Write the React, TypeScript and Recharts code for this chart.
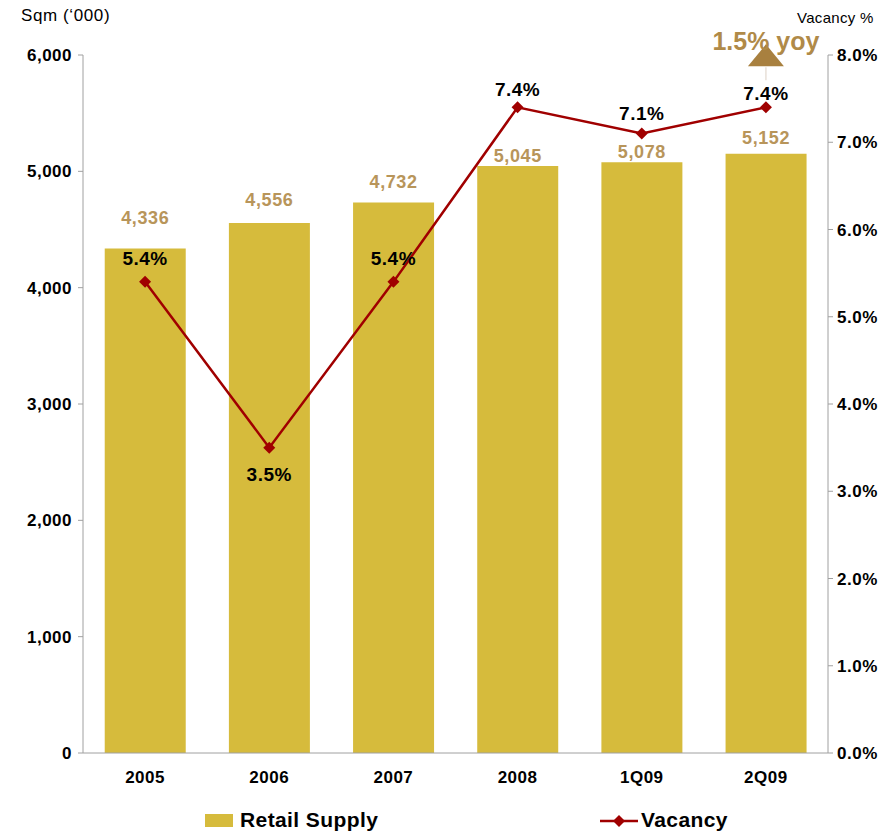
import React from 'react';
import {
  ComposedChart,
  Bar,
  Line,
  XAxis,
  YAxis,
  Legend,
  LabelList,
} from 'recharts';

const periods = ['2005', '2006', '2007', '2008', '1Q09', '2Q09'];
const retailSupply = [4336, 4556, 4732, 5045, 5078, 5152];
const vacancy = [5.4, 3.5, 5.4, 7.4, 7.1, 7.4];
const supplyTicks = [0, 1000, 2000, 3000, 4000, 5000, 6000];
const vacancyTicks = [0, 1, 2, 3, 4, 5, 6, 7, 8];
const yoyNote = '1.5% yoy';

const data = periods.map((p, i) => ({ period: p, supply: retailSupply[i], vacancy: vacancy[i] }));

const BAR = '#D6BB3C';
const LINE = '#A00000';
const TAN = '#B8955A';
const FONT = '"Liberation Sans", Arial, sans-serif';

// label nudges so the two label sets don't collide (as in the original)
const supplyLift = [25, 17, 15, 4, 4, 10];
const vacancyShift = [-17, 33, -17, -11, -14, -7];

const Diamond = (props: any) => {
  const { cx, cy } = props;
  if (cx == null || cy == null) return null;
  const s = 6;
  return <path d={`M${cx},${cy - s}L${cx + s},${cy}L${cx},${cy + s}L${cx - s},${cy}Z`} fill={LINE} />;
};

const SupplyLabel = (props: any) => {
  const { x, y, width, value, index } = props;
  return (
    <text
      x={x + width / 2}
      y={y - supplyLift[index]}
      textAnchor="middle"
      fill={TAN}
      fontSize={18}
      fontWeight="bold"
      letterSpacing={0.6}
      fontFamily={FONT}
    >
      {value.toLocaleString('en-US')}
    </text>
  );
};

const VacancyLabel = (props: any) => {
  const { x, y, value, index } = props;
  const last = index === periods.length - 1;
  return (
    <g>
      <text
        x={x}
        y={y + vacancyShift[index]}
        textAnchor="middle"
        fill="#000"
        fontSize={19}
        fontWeight="bold"
        letterSpacing={0.5}
        fontFamily={FONT}
      >
        {value.toFixed(1)}%
      </text>
      {last && (
        <g>
          <line x1={x} y1={y - 40} x2={x} y2={y - 27} stroke="#E8E0D8" strokeWidth={1.5} />
          <path d={`M${x - 18},${y - 41}L${x + 18},${y - 41}L${x},${y - 63}Z`} fill="#A8803F" />
          <text x={x} y={y - 57} textAnchor="middle" fill="#B08A48" fontSize={25} fontWeight="bold" fontFamily={FONT}>
            {yoyNote}
          </text>
        </g>
      )}
    </g>
  );
};

const LegendBox = () => (
  <div style={{ position: 'relative', width: 896, height: 24, fontFamily: FONT, fontWeight: 'bold', fontSize: 21 }}>
    <div style={{ position: 'absolute', left: 205, top: 7, width: 28, height: 13, background: BAR }} />
    <div style={{ position: 'absolute', left: 240, top: 1, lineHeight: '24px', letterSpacing: 0.4 }}>Retail Supply</div>
    <svg style={{ position: 'absolute', left: 600, top: 4 }} width={40} height={20}>
      <line x1={0} y1={10} x2={38} y2={10} stroke={LINE} strokeWidth={2.5} />
      <path d="M19,4L25,10L19,16L13,10Z" fill={LINE} />
    </svg>
    <div style={{ position: 'absolute', left: 641, top: 1, lineHeight: '24px', letterSpacing: 0.4 }}>Vacancy</div>
  </div>
);

const tickStyle = { fill: '#000', fontSize: 17, fontWeight: 'bold', fontFamily: FONT, letterSpacing: 0.5 };

export default function App() {
  return (
    <div style={{ position: 'absolute', left: 0, top: 0, width: 896, height: 831, background: '#fff', fontFamily: FONT }}>
      <div style={{ position: 'absolute', left: 21, top: 6, fontSize: 17, letterSpacing: 0.6, color: '#000' }}>Sqm (‘000)</div>
      <div style={{ position: 'absolute', left: 797, top: 9, fontSize: 15, letterSpacing: 0.3, color: '#000' }}>Vacancy %</div>
      <ComposedChart
        width={896}
        height={831}
        data={data}
        margin={{ top: 55, right: 8, bottom: 24, left: 23 }}
        barCategoryGap="17.5%"
      >
        <XAxis
          dataKey="period"
          height={30}
          tickLine={false}
          axisLine={{ stroke: '#A0A0A0' }}
          tick={tickStyle}
          tickMargin={12}
        />
        <YAxis
          yAxisId="left"
          width={60}
          domain={[0, 6000]}
          ticks={supplyTicks}
          tickFormatter={(v: number) => v.toLocaleString('en-US')}
          axisLine={{ stroke: '#A0A0A0' }}
          tickLine={{ stroke: '#A0A0A0' }}
          tickSize={5}
          tick={tickStyle}
          tickMargin={6}
        />
        <YAxis
          yAxisId="right"
          orientation="right"
          width={60}
          domain={[0, 8]}
          ticks={vacancyTicks}
          tickFormatter={(v: number) => `${v.toFixed(1)}%`}
          axisLine={{ stroke: '#A0A0A0' }}
          tickLine={{ stroke: '#A0A0A0' }}
          tickSize={5}
          tick={tickStyle}
          tickMargin={4}
        />
        <Bar yAxisId="left" dataKey="supply" name="Retail Supply" fill={BAR} isAnimationActive={false}>
          <LabelList dataKey="supply" content={SupplyLabel} />
        </Bar>
        <Line
          yAxisId="right"
          dataKey="vacancy"
          name="Vacancy"
          stroke={LINE}
          strokeWidth={2.5}
          dot={<Diamond />}
          activeDot={false}
          isAnimationActive={false}
        >
          <LabelList dataKey="vacancy" content={VacancyLabel} />
        </Line>
        <Legend
          verticalAlign="bottom"
          content={<LegendBox />}
          wrapperStyle={{ left: 0, top: 807, width: 896, height: 24 }}
        />
      </ComposedChart>
    </div>
  );
}
